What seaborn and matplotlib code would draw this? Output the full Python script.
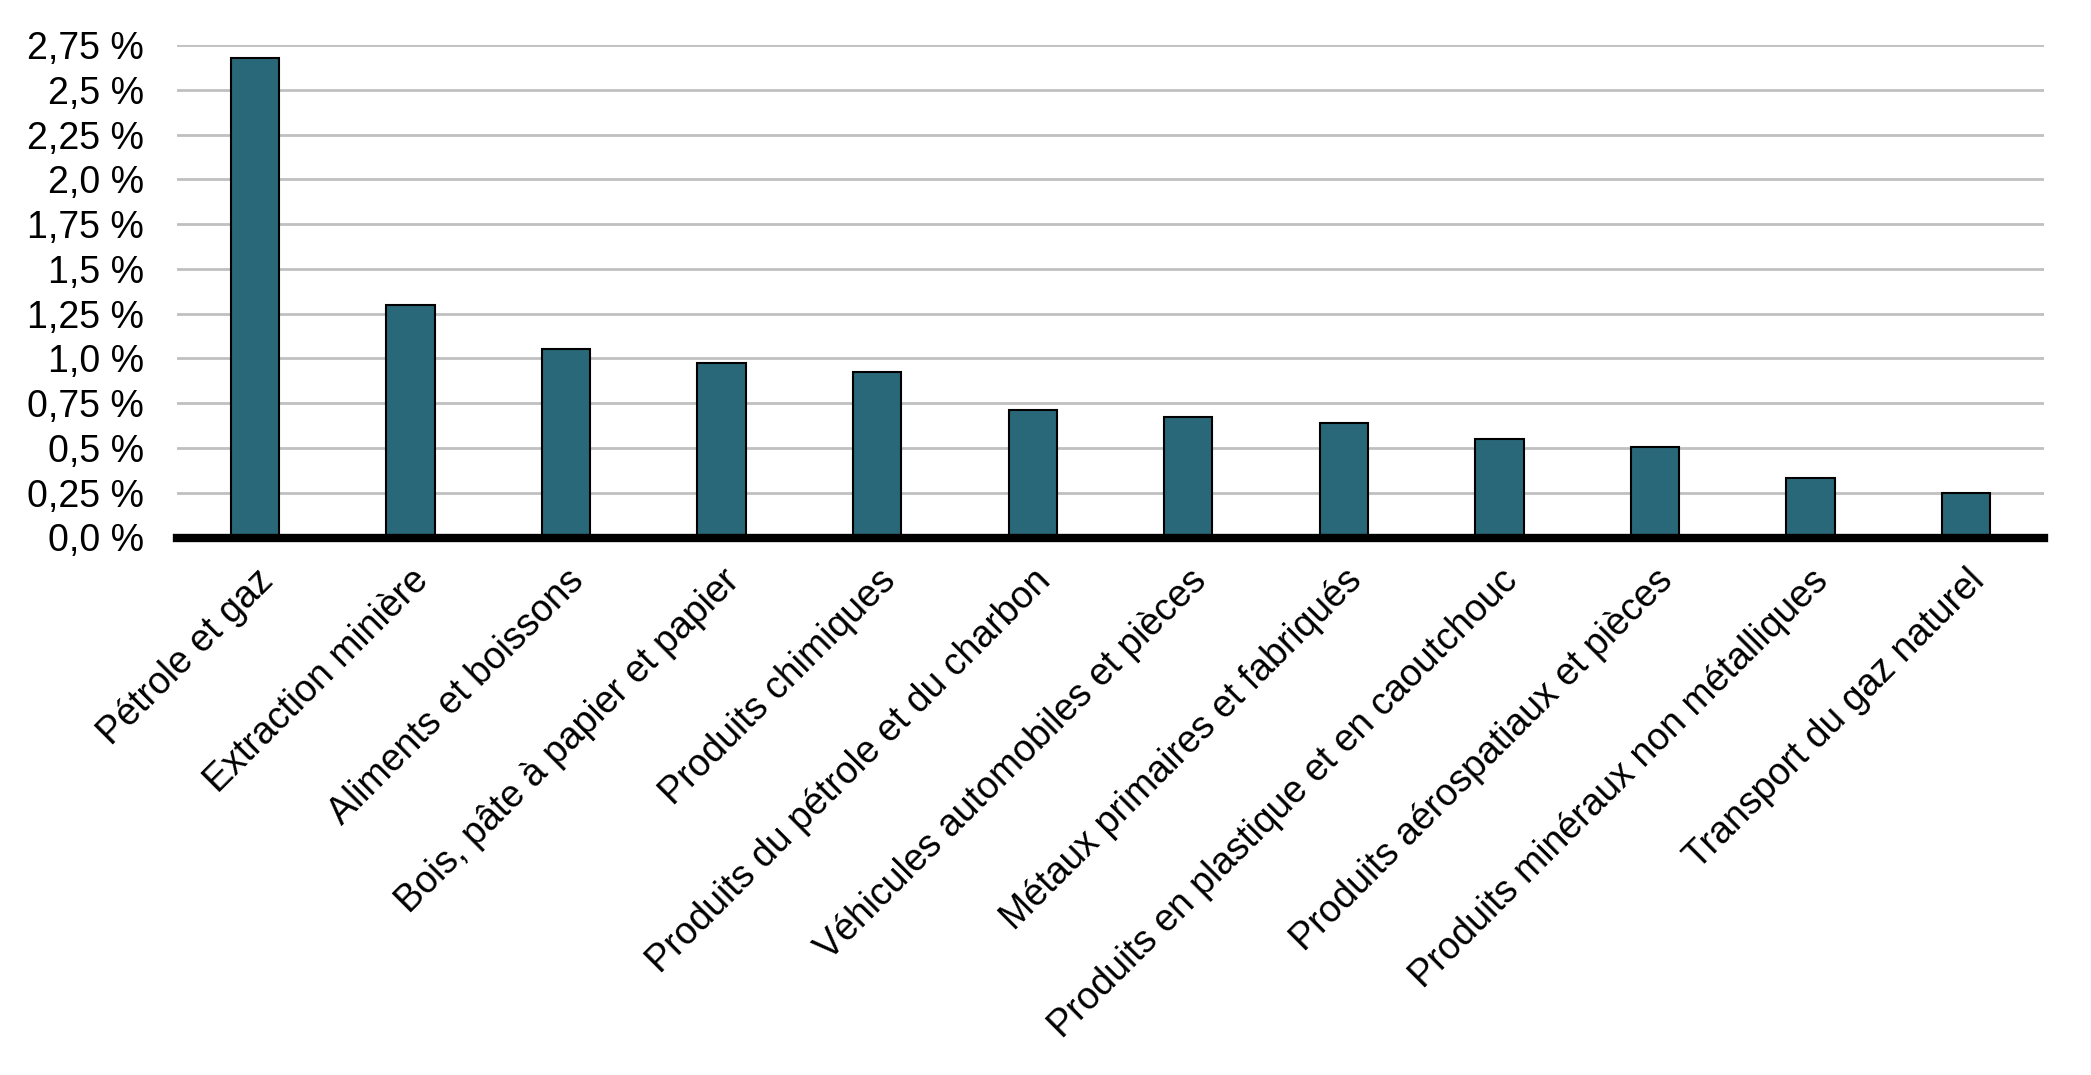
import matplotlib
matplotlib.use("Agg")
import matplotlib.pyplot as plt
import seaborn as sns
import pandas as pd
from matplotlib.ticker import FixedLocator

categories = [
    "Pétrole et gaz",
    "Extraction minière",
    "Aliments et boissons",
    "Bois, pâte à papier et papier",
    "Produits chimiques",
    "Produits du pétrole et du charbon",
    "Véhicules automobiles et pièces",
    "Métaux primaires et fabriqués",
    "Produits en plastique et en caoutchouc",
    "Produits aérospatiaux et pièces",
    "Produits minéraux non métalliques",
    "Transport du gaz naturel",
]
values = [2.68, 1.30, 1.055, 0.975, 0.925, 0.71, 0.675, 0.64, 0.55, 0.505, 0.335, 0.25]
ytick_values = [0, 0.25, 0.5, 0.75, 1.0, 1.25, 1.5, 1.75, 2.0, 2.25, 2.5, 2.75]
ytick_labels = ["0,0 %", "0,25 %", "0,5 %", "0,75 %", "1,0 %", "1,25 %",
                "1,5 %", "1,75 %", "2,0 %", "2,25 %", "2,5 %", "2,75 %"]

sns.set_theme(style="white")
plt.rcParams['font.family'] = ['Liberation Sans', 'DejaVu Sans']
plt.rcParams['text.color'] = 'black'
plt.rcParams['xtick.color'] = 'black'
plt.rcParams['ytick.color'] = 'black'

df = pd.DataFrame({"cat": categories, "val": values})

fig = plt.figure(figsize=(20.91, 10.75), dpi=100)
ax = fig.add_axes([0.0847, 0.5, 0.8928, 0.458])

sns.barplot(data=df, x="cat", y="val", ax=ax, color="#296878", saturation=1,
            width=0.31, edgecolor="black", linewidth=1.5, zorder=3)

ax.set_ylim(0, 2.75)
ax.set_xlim(-0.5, len(categories) - 0.5)
ax.yaxis.set_major_locator(FixedLocator(ytick_values))
ax.set_yticklabels(ytick_labels, fontsize=27, color="black")
ax.grid(axis="y", color="#c0c0c0", linewidth=2, zorder=0)
ax.set_axisbelow(True)
for s in ["top", "right", "left"]:
    ax.spines[s].set_visible(False)
ax.spines["bottom"].set_linewidth(6)
ax.spines["bottom"].set_color("black")
ax.spines["bottom"].set_zorder(5)
ax.set_xlabel("")
ax.set_ylabel("")
ax.tick_params(axis="both", length=0)
ax.tick_params(axis="y", pad=24)
ax.set_xticks(range(len(categories)))
ax.set_xticklabels(categories, rotation=45, ha="right", va="top",
                   rotation_mode="anchor", fontsize=27, color="black")
ax.tick_params(axis="x", pad=18)

fig.savefig("out.png", dpi=100)
